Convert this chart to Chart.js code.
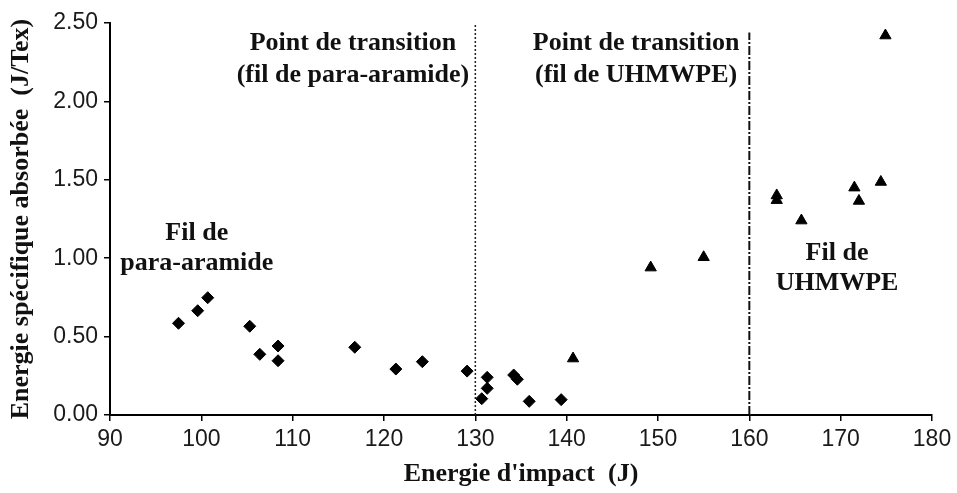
<!DOCTYPE html>
<html>
<head>
<meta charset="utf-8">
<script src="https://cdn.jsdelivr.net/npm/chart.js@4/dist/chart.umd.min.js"></script>
<style>
  html,body{margin:0;padding:0;background:#fff}
  #wrap{width:957px;height:493px}
</style>
</head>
<body>
<div id="wrap"><canvas id="chart" width="957" height="493"></canvas></div>
<script>
// data
const aramideX = [97.5, 99.6, 100.7, 105.3, 106.4, 108.4, 108.4, 116.8, 121.3, 124.2, 129.1, 130.7, 131.3, 131.3, 134.2, 134.6, 135.9, 139.4];
const aramideY = [0.585, 0.665, 0.748, 0.566, 0.387, 0.44, 0.346, 0.432, 0.293, 0.34, 0.28, 0.104, 0.24, 0.17, 0.255, 0.228, 0.087, 0.098];

const uhmwpeX = [140.7, 149.2, 155.0, 163.0, 163.0, 165.7, 171.5, 172.0, 174.4, 174.9];
const uhmwpeY = [0.36, 0.94, 1.006, 1.40, 1.37, 1.24, 1.45, 1.365, 1.486, 2.42];

const transitionAramide = 130;
const transitionUhmwpe = 160;
const transitionTop = [2.5, 2.44];

const xTicks = [90, 100, 110, 120, 130, 140, 150, 160, 170, 180];
const yTicks = [0, 0.5, 1, 1.5, 2, 2.5];

// text labels placed in data units
const notes = [
  {x: 116.6, y: 2.37, text: 'Point de transition'},
  {x: 116.6, y: 2.165, text: '(fil de para-aramide)'},
  {x: 147.6, y: 2.37, text: 'Point de transition'},
  {x: 147.6, y: 2.165, text: '(fil de UHMWPE)'},
  {x: 99.5, y: 1.16, text: 'Fil de'},
  {x: 99.5, y: 0.97, text: 'para-aramide'},
  {x: 169.6, y: 1.033, text: 'Fil de'},
  {x: 169.6, y: 0.842, text: 'UHMWPE'}
];

const toPts = (xs, ys) => xs.map((x,i)=>({x, y: ys[i]}));

const notePlugin = {
  id: 'notes',
  afterDatasetsDraw(chart){
    const {ctx, scales:{x, y}} = chart;
    ctx.save();
    ctx.fillStyle = '#111';
    ctx.font = 'bold 26px "Liberation Serif", "Times New Roman", serif';
    ctx.textAlign = 'center';
    ctx.textBaseline = 'middle';
    notes.forEach(n => ctx.fillText(n.text, x.getPixelForValue(n.x), y.getPixelForValue(n.y)));
    ctx.restore();
  }
};

const tickFont = {family: '"Liberation Sans", Arial, sans-serif', size: 23};
const titleFont = {family: '"Liberation Serif", "Times New Roman", serif', size: 26, weight: 'bold'};

new Chart(document.getElementById('chart').getContext('2d'), {
  type: 'scatter',
  data: {
    datasets: [
      {
        label: 'para-aramide',
        data: toPts(aramideX, aramideY),
        pointStyle: 'rectRot',
        pointRadius: 6,
        backgroundColor: '#000',
        borderColor: '#000',
        borderWidth: 1
      },
      {
        label: 'UHMWPE',
        data: toPts(uhmwpeX, uhmwpeY),
        pointStyle: 'triangle',
        pointRadius: 6.5,
        backgroundColor: '#000',
        borderColor: '#000',
        borderWidth: 1
      },
      {
        type: 'line',
        label: 'transition aramide',
        data: [{x: transitionAramide, y: 0}, {x: transitionAramide, y: transitionTop[0]}],
        borderColor: '#222',
        borderWidth: 1.5,
        borderDash: [2, 2],
        pointRadius: 0
      },
      {
        type: 'line',
        label: 'transition UHMWPE',
        data: [{x: transitionUhmwpe, y: 0}, {x: transitionUhmwpe, y: transitionTop[1]}],
        borderColor: '#111',
        borderWidth: 2,
        borderDash: [9, 2, 2, 2],
        pointRadius: 0
      }
    ]
  },
  options: {
    responsive: false,
    animation: false,
    events: [],
    layout: {padding: {top: 23, right: 25, left: 0, bottom: 0}},
    plugins: {legend: {display: false}, tooltip: {enabled: false}},
    scales: {
      x: {
        type: 'linear',
        min: 90, max: 180,
        afterFit: s => { s.height = 78; },
        afterBuildTicks: s => { s.ticks = xTicks.map(v => ({value: v})); },
        ticks: {font: tickFont, color: '#1a1a1a', padding: 5, callback: v => String(v)},
        grid: {drawOnChartArea: false, drawTicks: true, tickLength: 6, color: '#000', lineWidth: 1.5},
        border: {display: true, color: '#000', width: 2},
        title: {display: true, text: "Energie d'impact  (J)", font: titleFont, color: '#111', padding: {top: 0, bottom: 3}}
      },
      y: {
        type: 'linear',
        min: 0, max: 2.5,
        afterFit: s => { s.width = 110; },
        afterBuildTicks: s => { s.ticks = yTicks.map(v => ({value: v})); },
        ticks: {font: tickFont, color: '#1a1a1a', padding: 6, callback: v => Number(v).toFixed(2)},
        grid: {drawOnChartArea: false, drawTicks: true, tickLength: 6, color: '#000', lineWidth: 1.5},
        border: {display: true, color: '#000', width: 2},
        title: {display: true, text: 'Energie spécifique absorbée  (J/Tex)', font: titleFont, color: '#111', padding: {top: 6, bottom: 0}}
      }
    }
  },
  plugins: [notePlugin]
});
</script>
</body>
</html>
